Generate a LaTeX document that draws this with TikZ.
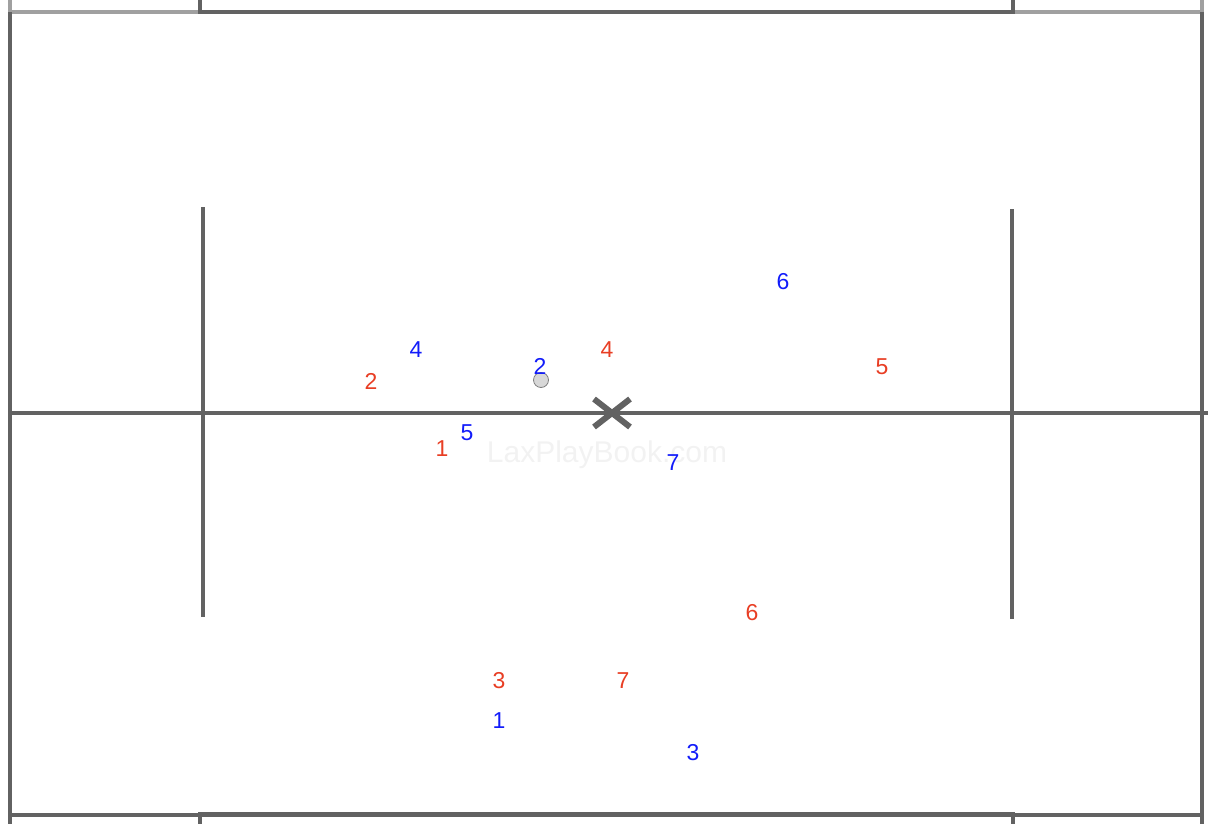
\documentclass[tikz,border=0pt]{standalone}
\usepackage{fontspec}
\setmainfont{Liberation Sans}
\usepackage{tikz}
\usetikzlibrary{positioning}
\definecolor{linegray}{RGB}{98,98,98}
\definecolor{palegray}{RGB}{160,160,160}
\definecolor{ballgray}{RGB}{216,216,216}
\definecolor{offred}{RGB}{232,62,36}
\definecolor{defblue}{RGB}{18,28,250}
\definecolor{markgray}{RGB}{242,242,242}
\tikzstyle{field}=[%
      draw=linegray, line width=3.2pt
]
\tikzstyle{sideline}=[%
      draw=palegray, line width=3.2pt
]
\tikzstyle{attack}=[%
      text=offred, font=\fontsize{23}{23}\selectfont, inner sep=0pt
]
\tikzstyle{defend}=[%
      text=defblue, font=\fontsize{23}{23}\selectfont, inner sep=0pt
]

\begin{document}
\begin{tikzpicture}[x=1pt, y=-1pt]
    \useasboundingbox (0,0) rectangle (1210,824);

    % outer lines
    \draw[sideline] (10,0) -- (10,12) -- (200,12);
    \draw[sideline] (1013,12) -- (1202,12) -- (1202,0);
    \draw[field] (200,0) -- (200,12) -- (1013,12) -- (1013,0);
    \draw[field] (10,12) -- (10,824);
    \draw[field] (1202,12) -- (1202,824);
    \draw[field] (10,815) -- (1202,815);
    \draw[field, line width=4pt] (200,824) -- (200,814) -- (1013,814) -- (1013,824);

    % midline and restraining lines
    \draw[field, line width=4.6pt] (8,413) -- (1208,413);
    \draw[field] (203,207) -- (203,617);
    \draw[field] (1012,209) -- (1012,619);

    % watermark
    \node[text=markgray, font=\fontsize{30}{30}\selectfont] (mark) at (607,455) {LaxPlayBook.com};

    % faceoff X
    \coordinate (x) at (612,413);
    \draw[linegray, line width=6pt] ([shift={(-18,-14)}]x) -- ([shift={(18,14)}]x)
                                    ([shift={(-18,14)}]x) -- ([shift={(18,-14)}]x);

    % ball
    \node[circle, draw=gray, fill=ballgray, line width=0.8pt, minimum size=15pt, inner sep=0pt] (ball) at (541,380) {};

    % offense
    \node[attack] (a1) at (442,449) {1};
    \node[attack] (a2) at (371,381) {2};
    \node[attack] (a3) at (499,681) {3};
    \node[attack] (a4) at (607,350) {4};
    \node[attack] (a5) at (882,367) {5};
    \node[attack] (a6) at (752,613) {6};
    \node[attack] (a7) at (623,681) {7};

    % defense
    \node[defend] (d1) at (499,721) {1};
    \node[defend] (d2) at (540,366) {2};
    \node[defend] (d3) at (693,753) {3};
    \node[defend] (d4) at (416,350) {4};
    \node[defend] (d5) at (467,433) {5};
    \node[defend] (d6) at (783,282) {6};
    \node[defend] (d7) at (673,463) {7};
\end{tikzpicture}
\end{document}
